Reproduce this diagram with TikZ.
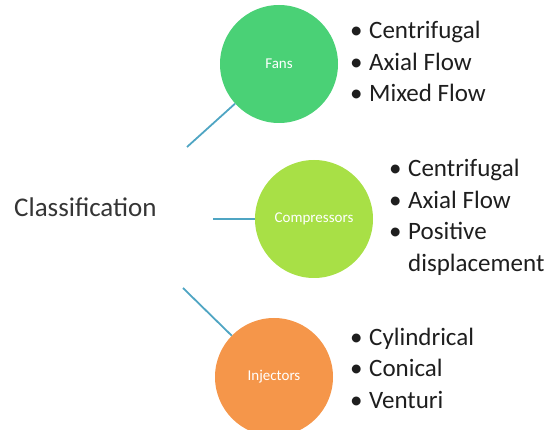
\documentclass[tikz,border=0pt]{standalone}
\usepackage{fontspec}
\setmainfont{Carlito}
\usepackage{xcolor}
\usetikzlibrary{calc}
\definecolor{fancol}{HTML}{4AD176}
\definecolor{compcol}{HTML}{A8E046}
\definecolor{injcol}{HTML}{F5964A}
\definecolor{linkcol}{HTML}{4FA5C3}
\definecolor{txtcol}{HTML}{1E1E1E}
\tikzset{ball/.style={circle,inner sep=0pt,minimum size=118pt,text=white,font=\fontsize{15}{18}\selectfont}}
\tikzset{link/.style={draw=linkcol,line width=1.8pt}}
\tikzset{items/.style={anchor=base west,inner sep=0pt,text=txtcol,font=\fontsize{25}{31.5}\selectfont}}
\newcommand{\bul}{\textbullet}

\begin{document}
\begin{tikzpicture}[x=1pt,y=-1pt]
                    \useasboundingbox (0,0) rectangle (549,430);

                    \node[anchor=base west,inner sep=0pt,text=txtcol!90,font=\fontsize{27}{32}\selectfont] (cls) at (14,217) {Classification};

                    \node[ball,fill=fancol] (fans) at (279,64) {Fans};
                    \node[ball,fill=compcol] (comp) at (314,219) {Compressors};
                    \node[ball,fill=injcol] (inj) at (274,377) {Injectors};

                    \coordinate (f0) at (187,147);
                    \coordinate (c0) at (213,219);
                    \coordinate (i0) at (183,288);

                    \draw[link] (f0) -- (fans);
                    \draw[link] (c0) -- (comp);
                    \draw[link] (i0) -- (inj);

                    \node[items] (fanlist) at (350,39) {\begin{tabular}[t]{@{}p{19pt}@{}l@{}}
                        \bul & Centrifugal\\ \bul & Axial Flow\\ \bul & Mixed Flow\end{tabular}};
                    \node[items] (complist) at (389,177) {\begin{tabular}[t]{@{}p{19pt}@{}l@{}}
                        \bul & Centrifugal\\ \bul & Axial Flow\\ \bul & Positive\\ & displacement\end{tabular}};
                    \node[items] (injlist) at (350,345) {\begin{tabular}[t]{@{}p{19pt}@{}l@{}}
                        \bul & Cylindrical\\ \bul & Conical\\ \bul & Venturi\end{tabular}};
                \end{tikzpicture}
\end{document}
